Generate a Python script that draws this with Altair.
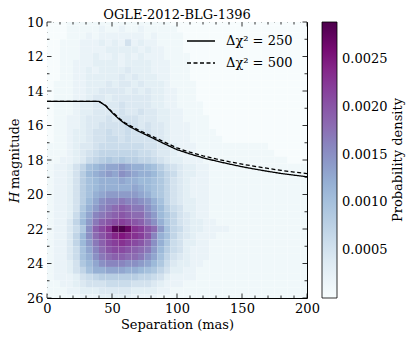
import altair as alt
import pandas as pd

# ---------------- data ----------------
title_text = "OGLE-2012-BLG-1396"

# 2-D histogram: 40 columns of 5 mas (0..200), 41 rows centred every 0.4 mag (10..26)
x_bin_width = 5.0
y_bin_height = 0.4
y_first_centre = 10.0
level_chars = "0123456789ABCDEFGHIJKLMNOPQRST"   # level k -> k * 1e-4
density_unit = 0.0001

density_rows = [
    "0001111111 1111111110 0000000000 0000000000",  # 10.0
    "0001111121 1211211111 0000000000 0000000000",  # 10.4
    "0001112122 2222212111 1000000000 0000000000",  # 10.8
    "0011122232 3252322111 1000000000 0000000000",  # 11.2
    "0011122223 3333232211 1000000000 0000000000",  # 11.6
    "0011122322 3232322211 1100000000 0000000000",  # 12.0
    "0011222333 3233332221 1100000000 0000000000",  # 12.4
    "0011223233 3343332221 1100000000 0000000000",  # 12.8
    "0011223333 3434333221 1100000000 0000000000",  # 13.2
    "0111223334 3443433321 1110000000 0000000000",  # 13.6
    "0111223344 4434343322 1110000000 0000000000",  # 14.0
    "0111223443 4444443322 1110000000 0000000000",  # 14.4
    "0111233444 4544443322 1111000000 0000000000",  # 14.8
    "0111233444 4544544332 2111000000 0000000000",  # 15.2
    "0112234445 4555444332 2111100000 0000000000",  # 15.6
    "0112234455 5565454432 2211100000 0000000000",  # 16.0
    "0112334556 5565554432 2211110000 0000000000",  # 16.4
    "0112334556 6565555432 2211111000 0000000000",  # 16.8
    "1112344566 6666655443 2221111111 1111000000",  # 17.2
    "1112345677 7777665443 2221111111 1111100000",  # 17.6
    "1122346789 8988776543 3222111111 1111111000",  # 18.0
    "122357ABCD DEDCCBA865 4332211111 1111111111",  # 18.4
    "122358BCDE DFEDCCB976 4332211111 1111111111",  # 18.8
    "122358ABCC CDCCBBA975 4322211111 1111111111",  # 19.2
    "122358ABCC CCCDCBA975 4322211111 1111111111",  # 19.6
    "122358ACDE EEEEDCA975 4322211111 1111111111",  # 20.0
    "122358BDFG GHGGFECA75 4332211111 1111111111",  # 20.4
    "122359CEGH IJIHHFDB86 5332211111 1111111111",  # 20.8
    "12236ADGHI JKJIIGEB97 5432211111 1111111111",  # 21.2
    "12247BEHJK LMLKJHFC97 5433221111 1111111111",  # 21.6
    "122469FJLN STRNMKIEA7 6433222211 1111111111",  # 22.0
    "12247BFIKM OPONMKGCA7 5432221111 1111111111",  # 22.4
    "12247BEHJL MNMLKIFC96 5332211111 1111111111",  # 22.8
    "12246ADGIK LLKJIHEB86 5322211111 1111111111",  # 23.2
    "12246ACFHI JJIIHFDA75 4322211111 1111111111",  # 23.6
    "122359BDFG GGFFEDB964 3322111111 1111111111",  # 24.0
    "122357ACCD DDCCBA9753 3221111111 1111111111",  # 24.4
    "1222356788 8888776532 2221111111 1111111111",  # 24.8
    "1122345556 6665554322 2111111111 1111111111",  # 25.2
    "1112233344 4443333221 1111111111 1111111111",  # 25.6
    "1111122233 3332222111 1111111111 1111111111",  # 26.0
]

# limiting-magnitude curves
sep_mas = [0, 40, 45, 50, 55, 60, 65, 70, 80, 90, 100, 110, 120, 130, 140,
           150, 160, 170, 180, 190, 200]
h_dchi250 = [14.6, 14.6, 14.85, 15.25, 15.6, 15.9, 16.12, 16.32, 16.68, 17.05,
             17.4, 17.65, 17.87, 18.06, 18.23, 18.39, 18.53, 18.66, 18.78,
             18.88, 18.97]
h_dchi500 = [14.6, 14.6, 14.83, 15.2, 15.55, 15.85, 16.05, 16.25, 16.6, 16.95,
             17.3, 17.55, 17.76, 17.94, 18.1, 18.24, 18.37, 18.49, 18.6, 18.7,
             18.79]
curve_labels = ["Δχ² = 250", "Δχ² = 500"]

# axis ticks / colourbar ticks
x_major = [0, 50, 100, 150, 200]
x_minor = [10, 20, 30, 40, 60, 70, 80, 90, 110, 120, 130, 140, 160, 170, 180, 190]
y_major = [10, 12, 14, 16, 18, 20, 22, 24, 26]
y_minor = [11, 13, 15, 17, 19, 21, 23, 25]
cbar_ticks = [0.0005, 0.0010, 0.0015, 0.0020, 0.0025]
cbar_max = 0.00289
cbar_title = "Probability density"

# BuPu colour map
bupu = ["#f7fcfd", "#e0ecf4", "#bfd3e6", "#9ebcda", "#8c96c6",
        "#8c6bb1", "#88419d", "#810f7c", "#4d004b"]

# ---------------- tables ----------------
cells = []
for j, row in enumerate(density_rows):
    s = row.replace(" ", "")
    yc = y_first_centre + j * y_bin_height
    for i, ch in enumerate(s):
        cells.append({
            "x0": i * x_bin_width, "x1": (i + 1) * x_bin_width,
            "y0": yc - y_bin_height / 2, "y1": yc + y_bin_height / 2,
            "d": level_chars.index(ch) * density_unit,
        })
heat_df = pd.DataFrame(cells)

curves_df = pd.DataFrame(
    [{"x0": x, "y0": h, "curve": curve_labels[0]} for x, h in zip(sep_mas, h_dchi250)]
    + [{"x0": x, "y0": h, "curve": curve_labels[1]} for x, h in zip(sep_mas, h_dchi500)]
)

W, H = 260, 276
FONT = "DejaVu Serif"

n = len(bupu) - 1
color_scale = alt.Scale(domain=[cbar_max * k / n for k in range(n + 1)], range=bupu)
xs = alt.Scale(domain=[0, 200], nice=False, zero=False)
ys = alt.Scale(domain=[10, 26], nice=False, zero=False, reverse=True)

x_axis = alt.Axis(values=x_major, title="Separation (mas)", tickSize=0, domain=False,
                  grid=False, labelPadding=4, titlePadding=3, labelFlush=False)
y_axis = alt.Axis(values=y_major, title=None, tickSize=0, domain=False,
                  grid=False, labelPadding=4, labelFlush=False)

heat = alt.Chart(heat_df).mark_rect(clip=True).encode(
    x=alt.X("x0:Q", scale=xs, axis=x_axis),
    x2="x1:Q",
    y=alt.Y("y0:Q", scale=ys, axis=y_axis),
    y2="y1:Q",
    color=alt.Color("d:Q", scale=color_scale, legend=alt.Legend(
        type="gradient", title=None, orient="right", offset=15,
        gradientLength=H, gradientThickness=15, values=cbar_ticks,
        format=".4f",
        gradientStrokeColor="black", gradientStrokeWidth=0.8,
        labelOffset=5, labelOverlap=False, direction="vertical")),
)

lines = alt.Chart(curves_df).mark_line(color="black", strokeWidth=1.3, clip=True).encode(
    x=alt.X("x0:Q", scale=xs, axis=x_axis),
    y=alt.Y("y0:Q", scale=ys, axis=y_axis),
    strokeDash=alt.StrokeDash("curve:N", scale=alt.Scale(domain=curve_labels,
                                                       range=[[1, 0], [4, 2.5]]),
                              legend=alt.Legend(title=None, orient="none",
                                                legendX=139, legendY=4,
                                                symbolType="stroke", symbolSize=784,
                                                symbolStrokeWidth=1.3,
                                                symbolStrokeColor="black",
                                                labelOffset=10, rowPadding=-5)),
)

def tick_layer(vals, axis_name, length):
    df = pd.DataFrame({"x0": vals, "y0": vals})
    base = alt.Chart(df).mark_rule(color="black", strokeWidth=0.8)
    if axis_name == "x":
        enc_x = alt.X("x0:Q", scale=xs, axis=x_axis)
        bottom = base.encode(x=enc_x, y=alt.value(H), y2=alt.value(H - length))
        top = base.encode(x=enc_x, y=alt.value(0), y2=alt.value(length))
        return [bottom, top]
    enc_y = alt.Y("y0:Q", scale=ys, axis=y_axis)
    left = base.encode(y=enc_y, x=alt.value(0), x2=alt.value(length))
    right = base.encode(y=enc_y, x=alt.value(W), x2=alt.value(W - length))
    return [left, right]

ticks = (tick_layer(x_major, "x", 4.5) + tick_layer(x_minor, "x", 2.5)
         + tick_layer(y_major, "y", 4.5) + tick_layer(y_minor, "y", 2.5))

one = pd.DataFrame({"k": [0]})
ylab_h = alt.Chart(one).mark_text(text="H", angle=270, font=FONT, fontSize=13,
                                  fontStyle="italic", align="left", baseline="middle",
                                  color="black").encode(x=alt.value(-32), y=alt.value(181))
ylab_rest = alt.Chart(one).mark_text(text="magnitude", angle=270, font=FONT, fontSize=13,
                                     align="left", baseline="middle",
                                     color="black").encode(x=alt.value(-32), y=alt.value(167))
cbar_lab = alt.Chart(one).mark_text(text=cbar_title, angle=270, font=FONT, fontSize=13,
                                    align="center", baseline="middle",
                                    color="black").encode(x=alt.value(351), y=alt.value(H / 2))
title_lab = alt.Chart(one).mark_text(text=title_text, font=FONT, fontSize=13,
                                     align="center", baseline="alphabetic",
                                     color="black").encode(x=alt.value(W / 2), y=alt.value(-3.5))

chart = alt.layer(heat, lines, *ticks, ylab_h, ylab_rest, cbar_lab, title_lab).properties(
    width=W, height=H,
    autosize=alt.AutoSizeParams(type="none"),
    padding={"left": 39, "top": 14, "right": 100, "bottom": 40},
).configure_view(
    stroke="black", strokeWidth=1
).configure_axis(
    labelFont=FONT, labelFontSize=13, labelColor="black",
    titleFont=FONT, titleFontSize=13, titleFontWeight="normal", titleColor="black",
).configure_legend(
    labelFont=FONT, labelFontSize=13, labelColor="black",
    titleFont=FONT, titleFontSize=13, titleFontWeight="normal", titleColor="black",
    labelLimit=200,
)

chart.save("out.html", embed_options={"renderer": "svg", "actions": False})
